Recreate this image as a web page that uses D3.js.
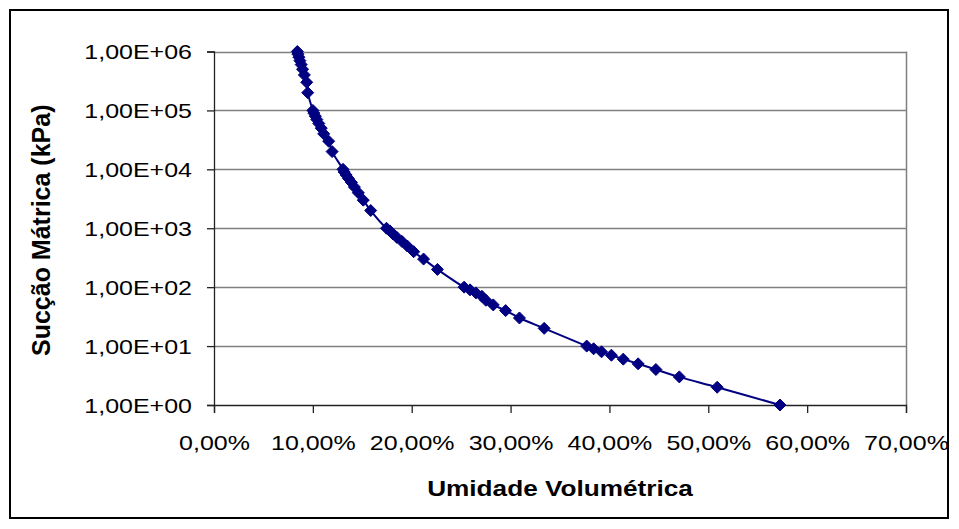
<!DOCTYPE html>
<html>
<head>
<meta charset="utf-8">
<script src="https://cdn.jsdelivr.net/npm/d3@7"></script>
<style>
  html, body { margin: 0; padding: 0; background: #fff; }
  svg { display: block; }
  text { font-family: "Liberation Sans", Arial, sans-serif; fill: #000; }
</style>
</head>
<body>
<svg id="chart" width="959" height="529"></svg>
<script>
// Suction (kPa) and volumetric moisture (fraction)
const suction = [
  1, 2, 3, 4, 5, 6, 7, 8, 9,
  10, 20, 30, 40, 50, 60, 70, 80, 90,
  100, 200, 300, 400, 500, 600, 700, 800, 900,
  1000, 2000, 3000, 4000, 5000, 6000, 7000, 8000, 9000,
  10000, 20000, 30000, 40000, 50000, 60000, 70000, 80000, 90000,
  100000, 200000, 300000, 400000, 500000, 600000, 700000, 800000, 900000,
  1000000
];
const moisture = [
  0.5725, 0.509, 0.4707, 0.447, 0.429, 0.414, 0.402, 0.392, 0.384,
  0.377, 0.334, 0.309, 0.295, 0.2825, 0.275, 0.271, 0.265, 0.259,
  0.253, 0.226, 0.212, 0.202, 0.1955, 0.19, 0.185, 0.181, 0.178,
  0.1745, 0.1585, 0.151, 0.146, 0.142, 0.139, 0.136, 0.1337, 0.1317,
  0.1305, 0.1195, 0.116, 0.111, 0.1085, 0.106, 0.104, 0.1025, 0.101,
  0.100, 0.0948, 0.0938, 0.0914, 0.0896, 0.0882, 0.0869, 0.0859, 0.0849,
  0.0843
];
const xTicks = [0, 0.1, 0.2, 0.3, 0.4, 0.5, 0.6, 0.7];
const yTicks = [1, 10, 100, 1000, 10000, 100000, 1000000];
const xTitle = "Umidade Volumétrica";
const yTitle = "Sucção Mátrica (kPa)";

const data = suction.map((s, i) => ({ s, m: moisture[i] }));

const svg = d3.select("#chart");
const plot = { left: 214, right: 906, top: 51.5, bottom: 405 };
const stretch = 1.19;

const x = d3.scaleLinear().domain([0, 0.7]).range([plot.left, plot.right]);
const y = d3.scaleLog().domain([1, 1e6]).range([plot.bottom, plot.top]);

// outer frame
svg.append("rect")
  .attr("x", 10).attr("y", 10).attr("width", 938).attr("height", 508)
  .attr("fill", "#fff").attr("stroke", "#000").attr("stroke-width", 2);

// gridlines
svg.append("g").selectAll("line").data(yTicks.slice(1)).join("line")
  .attr("x1", plot.left).attr("x2", plot.right)
  .attr("y1", d => Math.round(y(d)) + 0.5).attr("y2", d => Math.round(y(d)) + 0.5)
  .attr("stroke", "#808080").attr("stroke-width", 1.5);
// right border of plot area
svg.append("line")
  .attr("x1", plot.right + 0.5).attr("x2", plot.right + 0.5)
  .attr("y1", plot.top).attr("y2", plot.bottom)
  .attr("stroke", "#808080").attr("stroke-width", 1.5);

// y axis
const yAxis = d3.axisLeft(y).tickValues(yTicks).tickSize(7).tickPadding(0)
  .tickFormat(d => "1,00E+" + String(Math.round(Math.log10(d))).padStart(2, "0"));
const gy = svg.append("g").attr("transform", `translate(${plot.left},0)`).call(yAxis);
gy.select(".domain").attr("stroke", "#222").attr("stroke-width", 1.3);
gy.selectAll(".tick line").attr("stroke", "#222").attr("stroke-width", 1.3);
gy.selectAll(".tick text")
  .attr("x", 0).attr("dy", "0.35em")
  .attr("transform", `translate(-22,0) scale(${stretch},1)`)
  .style("font-size", "21px").style("font-family", "'Liberation Sans', Arial, sans-serif")
  .attr("fill", "#000");

// x axis
const xAxis = d3.axisBottom(x).tickValues(xTicks).tickSize(8).tickPadding(0)
  .tickFormat(d => (d * 100).toFixed(2).replace(".", ",") + "%");
const gx = svg.append("g").attr("transform", `translate(0,${plot.bottom})`).call(xAxis);
gx.select(".domain").attr("stroke", "#222").attr("stroke-width", 1.3);
gx.selectAll(".tick line").attr("stroke", "#222").attr("stroke-width", 1.3);
gx.selectAll(".tick text")
  .attr("y", 0).attr("dy", 0)
  .attr("transform", `translate(0,45) scale(${stretch},1)`)
  .style("font-size", "21px").style("font-family", "'Liberation Sans', Arial, sans-serif")
  .attr("fill", "#000");

// line (smoothed)
const line = d3.line().x(d => x(d.m)).y(d => y(d.s)).curve(d3.curveCatmullRom.alpha(0.5));
svg.append("path").datum(data)
  .attr("d", line).attr("fill", "none")
  .attr("stroke", "#000080").attr("stroke-width", 2);

// diamond markers
const r = 6;
svg.append("g").selectAll("path").data(data).join("path")
  .attr("d", d => {
    const cx = x(d.m), cy = y(d.s);
    return `M${cx},${cy - r}L${cx + r},${cy}L${cx},${cy + r}L${cx - r},${cy}Z`;
  })
  .attr("fill", "#000080").attr("stroke", "#000080").attr("stroke-width", 1);

// titles
svg.append("text")
  .attr("transform", `translate(${(plot.left + plot.right) / 2},496) scale(${stretch},1)`)
  .attr("text-anchor", "middle")
  .style("font-size", "22px").style("font-weight", "bold")
  .text(xTitle);

svg.append("text")
  .attr("transform", `translate(50,${(plot.top + plot.bottom) / 2 + 2}) rotate(-90)`)
  .attr("text-anchor", "middle")
  .style("font-size", "25px").style("font-weight", "bold")
  .text(yTitle);
</script>
</body>
</html>
